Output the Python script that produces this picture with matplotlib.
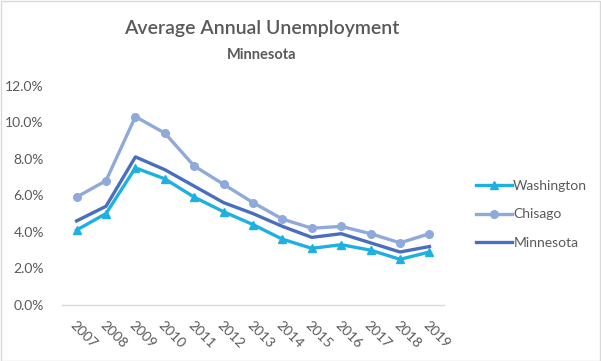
import matplotlib
matplotlib.use("Agg")
import matplotlib.pyplot as plt
from matplotlib.patches import Rectangle
from matplotlib.ticker import FuncFormatter

years = ["2007", "2008", "2009", "2010", "2011", "2012", "2013",
         "2014", "2015", "2016", "2017", "2018", "2019"]
washington = [4.1, 5.0, 7.5, 6.9, 5.9, 5.1, 4.4, 3.6, 3.1, 3.3, 3.0, 2.5, 2.9]
chisago = [5.9, 6.8, 10.3, 9.4, 7.6, 6.6, 5.6, 4.7, 4.2, 4.3, 3.9, 3.4, 3.9]
minnesota = [4.6, 5.4, 8.1, 7.4, 6.5, 5.6, 5.0, 4.3, 3.7, 3.9, 3.4, 2.9, 3.2]

plt.rcParams['font.family'] = ['Lato', 'DejaVu Sans']

c_wash = "#1FB0E2"
c_chis = "#8FA9DA"
c_minn = "#4A6EBE"
txt = "#595959"

fig = plt.figure(figsize=(6.01, 3.61), dpi=100)
fig.patches.append(Rectangle((0.001, 0.001), 0.997, 0.996, transform=fig.transFigure,
                             fill=False, edgecolor="#D9D9D9", linewidth=1))
ax = fig.add_axes([0.103, 0.155, 0.636, 0.608])

x = list(range(len(years)))
ax.plot(x, [v / 100 for v in washington], color=c_wash, lw=2.4, marker="^",
        markersize=6, label="Washington", zorder=3)
ax.plot(x, [v / 100 for v in chisago], color=c_chis, lw=2.4, marker="o",
        markersize=5.5, label="Chisago", zorder=2)
ax.plot(x, [v / 100 for v in minnesota], color=c_minn, lw=2.4,
        label="Minnesota", zorder=4)

ax.set_xlim(-0.5, len(years) - 0.5)
ax.set_ylim(0, 0.12)
ax.set_yticks([0, 0.02, 0.04, 0.06, 0.08, 0.10, 0.12])
ax.yaxis.set_major_formatter(FuncFormatter(lambda v, p: f"{v*100:.1f}%"))
ax.set_xticks(x)
ax.set_xticklabels(years, rotation=-45, ha="left", va="top", rotation_mode="anchor")

for s in ["top", "right", "left"]:
    ax.spines[s].set_visible(False)
ax.spines["bottom"].set_color("#D9D9D9")
ax.spines["bottom"].set_linewidth(1)
ax.tick_params(axis="both", length=0, colors=txt, labelsize=10)
ax.tick_params(axis="y", pad=13)
ax.tick_params(axis="x", pad=10)

fig.text(0.435, 0.921, "Average Annual Unemployment", ha="center", va="center",
         fontsize=14, color=txt, fontweight="semibold")
fig.text(0.435, 0.848, "Minnesota", ha="center", va="center",
         fontsize=10.5, color=txt, fontweight="bold")

leg = ax.legend(loc="center left", bbox_to_anchor=(1.05, 0.413), frameon=False,
                fontsize=10, handlelength=2.6, handletextpad=0.1,
                labelspacing=1.2, labelcolor=txt)

fig.savefig("out.png", dpi=100)
